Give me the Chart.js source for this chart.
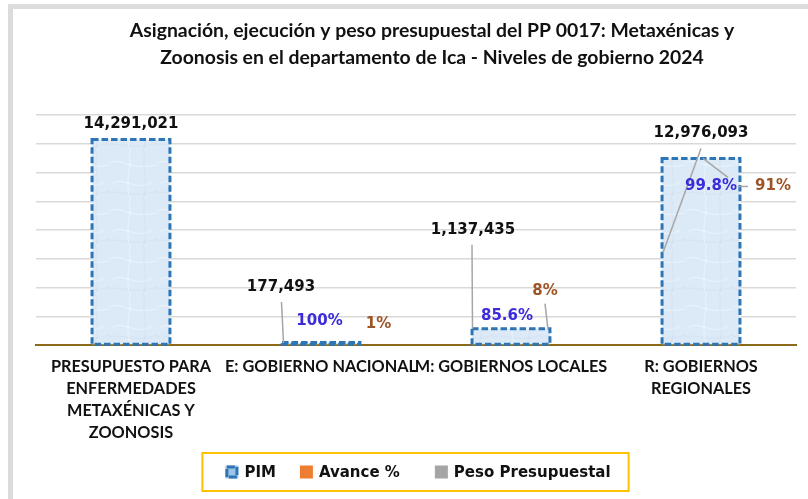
<!DOCTYPE html>
<html>
<head>
<meta charset="utf-8">
<script src="https://cdn.jsdelivr.net/npm/chart.js@4.4.0/dist/chart.umd.min.js"></script>
<style>
  html, body { margin: 0; padding: 0; background: #fff; }
  body { width: 808px; height: 499px; overflow: hidden; position: relative; }
  .frame { position: absolute; left: 8px; top: 4px; right: 0; bottom: 0; border-left: 5px solid #dcdcdc; border-top: 5px solid #dcdcdc; }
  .chart-container { position: absolute; left: 13px; top: 9px; width: 795px; height: 490px; }
</style>
</head>
<body>
<div class="frame"></div>
<div class="chart-container"><canvas id="myChart"></canvas></div>
<script>
const ctx = document.getElementById('myChart');

// Data

const categories = [
  ['PRESUPUESTO PARA', 'ENFERMEDADES', 'METAXÉNICAS Y', 'ZOONOSIS'],
  'E: GOBIERNO NACIONAL',
  'M: GOBIERNOS LOCALES',
  ['R: GOBIERNOS', 'REGIONALES']
];
const pimValues = [14291021, 177493, 1137435, 12976093];
const avanceValues = [null, 100, 85.6, 99.8];
const pesoValues = [null, 1, 8, 91];
const yMax = 16000000;
const yStep = 2000000;
const titleLines = [
  'Asignación, ejecución y peso presupuestal del PP 0017: Metaxénicas y',
  'Zoonosis en el departamento de Ica - Niveles de gobierno 2024'
];

// Fonts: size the Calibri-like text so it spans the same width as in the picture

const measureCtx = document.createElement('canvas').getContext('2d');
const fitSize = (text, family, target) => {
  measureCtx.font = `bold 100px ${family}`;
  return Math.round(100 * target / measureCtx.measureText(text).width * 10) / 10;
};
const narrowFamily = 'Lato, "Open Sans", sans-serif';
const wideFamily = '"DejaVu Sans"';
const titleSize = fitSize(titleLines[0], narrowFamily, 606);
const tickSize = fitSize('PRESUPUESTO PARA', narrowFamily, 160);

const blueLabel = '#3b2bd9';
const brownLabel = '#9e5427';
const leaderColor = '#a6a6a6';
const barBorder = '#2e75b6';

// Light textured fill for the PIM bars

const makePattern = () => {
  const c = document.createElement('canvas');
  c.width = 48; c.height = 48;
  const p = c.getContext('2d');
  p.fillStyle = '#dceaf8';
  p.fillRect(0, 0, 48, 48);
  p.lineWidth = 1;
  p.strokeStyle = 'rgba(255,255,255,0.45)';
  p.beginPath();
  p.moveTo(0, 10); p.bezierCurveTo(12, 4, 20, 18, 48, 12);
  p.moveTo(4, 30); p.bezierCurveTo(16, 24, 30, 40, 44, 28);
  p.moveTo(20, 0); p.bezierCurveTo(24, 16, 14, 30, 22, 48);
  p.stroke();
  p.strokeStyle = 'rgba(195,210,228,0.35)';
  p.beginPath();
  p.moveTo(0, 40); p.bezierCurveTo(10, 36, 24, 46, 48, 38);
  p.moveTo(36, 0); p.bezierCurveTo(32, 14, 40, 26, 34, 48);
  p.stroke();
  return p.createPattern(c, 'repeat');
};

// Label placement relative to bar centre / bar top: [dx, dy], lines [x1, y1, x2, y2]

const labelLayout = [
  { pim: [0, -15.5] },
  { pim: [-40, -55.5], pimLine: [-39.5, -40.5, -37.5, 0.5], avance: [-1.5, -21.5], peso: [57.5, -18.5] },
  { pim: [-38, -99], pimLine: [-39, -84, -38.5, 0], avance: [-4, -13], peso: [34, -38], pesoLine: [34, -25, 37, 1] },
  { pim: [0, -25], pimLine: [0, -10, -38, 94], avance: [10, 28], avanceLine: [2, 0, 27, 19], peso: [72, 28], pesoLine: [37, 28, 47, 28] }
];
const legendGaps = [24, 35];

const formatPct = (v) => (Number.isInteger(v) ? v : v.toFixed(1)) + '%';

const drawLegend = (chart) => {
  const c = chart.ctx;
  const area = chart.chartArea;
  const items = chart.data.datasets.map((ds) => ({ text: ds.label, color: ds.legendColor }));
  c.font = `bold 15px ${wideFamily}`;
  const box = 13, textGap = 6;
  const widths = items.map((it) => box + textGap + c.measureText(it.text).width);
  const total = widths.reduce((a, b) => a + b, 0) + legendGaps.reduce((a, b) => a + b, 0);
  let x = (area.left + area.right) / 2 + 2 - total / 2;
  const cy = area.bottom + 127;
  const start = x;
  c.textAlign = 'left';
  c.textBaseline = 'middle';
  items.forEach((it, i) => {
    if (i === 0) {
      c.fillStyle = '#9dc3e6';
      c.fillRect(x, cy - box / 2, box, box);
      c.strokeStyle = barBorder;
      c.lineWidth = 3;
      c.setLineDash([8, 2]);
      c.strokeRect(x + 1.5, cy - box / 2 + 1.5, box - 3, box - 3);
      c.setLineDash([]);
    } else {
      c.fillStyle = it.color;
      c.fillRect(x, cy - box / 2, box, box);
    }
    c.fillStyle = '#111';
    c.fillText(it.text, x + box + textGap, cy + 1);
    x += widths[i] + (legendGaps[i] || 0);
  });
  c.strokeStyle = '#ffc000';
  c.lineWidth = 2;
  c.strokeRect(start - 23, cy - 19, x - start + 41, 38);
};

const barDecor = {
  id: 'barDecor',
  afterDatasetsDraw(chart) {
    const c = chart.ctx;
    const meta = chart.getDatasetMeta(0);
    c.save();
    c.strokeStyle = barBorder;
    c.lineWidth = 3;
    c.setLineDash([6.5, 3]);
    meta.data.forEach((el) => {
      const { x, y, base, width } = el.getProps(['x', 'y', 'base', 'width'], true);
      c.strokeRect(x - width / 2, y, width, base - y);
    });
    c.restore();
  },
  afterDraw(chart) {
    const c = chart.ctx;
    const meta = chart.getDatasetMeta(0);
    const area = chart.chartArea;

    // title
    c.save();
    c.fillStyle = '#111';
    c.font = `bold ${titleSize}px ${narrowFamily}`;
    c.textAlign = 'center';
    c.textBaseline = 'middle';
    const tx = (area.left + area.right) / 2 + 16;
    c.fillText(titleLines[0], tx, area.top - 84);
    c.fillText(titleLines[1], tx, area.top - 57);

    // leader lines
    c.strokeStyle = leaderColor;
    c.lineWidth = 1.5;
    meta.data.forEach((el, i) => {
      const { x, y } = el.getProps(['x', 'y'], true);
      const lay = labelLayout[i];
      ['pimLine', 'avanceLine', 'pesoLine'].forEach((k) => {
        if (!lay[k]) return;
        const l = lay[k];
        c.beginPath();
        c.moveTo(x + l[0], y + l[1]);
        c.lineTo(x + l[2], y + l[3]);
        c.stroke();
      });
    });

    // data labels
    c.font = `bold 15px ${wideFamily}`;
    meta.data.forEach((el, i) => {
      const { x, y } = el.getProps(['x', 'y'], true);
      const lay = labelLayout[i];
      c.fillStyle = '#111';
      c.fillText(pimValues[i].toLocaleString('en-US'), x + lay.pim[0], y + lay.pim[1]);
      if (avanceValues[i] != null) {
        c.fillStyle = blueLabel;
        c.fillText(formatPct(avanceValues[i]), x + lay.avance[0], y + lay.avance[1]);
      }
      if (pesoValues[i] != null) {
        c.fillStyle = brownLabel;
        c.fillText(formatPct(pesoValues[i]), x + lay.peso[0], y + lay.peso[1]);
      }
    });

    drawLegend(chart);
    c.restore();
  }
};

const data = {
  labels: categories,
  datasets: [
    {
      label: 'PIM',
      data: pimValues,
      backgroundColor: makePattern(),
      legendColor: '#9dc3e6',
      borderWidth: 0,
      barPercentage: 0.41,
      categoryPercentage: 1,
      grouped: false
    },
    {
      type: 'line',
      label: 'Avance %',
      data: avanceValues,
      yAxisID: 'yPct',
      legendColor: '#ed7d31',
      showLine: false,
      pointRadius: 0,
      pointHoverRadius: 0
    },
    {
      type: 'line',
      label: 'Peso Presupuestal',
      data: pesoValues,
      yAxisID: 'yPct',
      legendColor: '#a5a5a5',
      showLine: false,
      pointRadius: 0,
      pointHoverRadius: 0
    }
  ]
};

const budgetChart = new Chart(ctx, {
  type: 'bar',
  data: data,
  plugins: [barDecor],
  options: {
    responsive: true,
    maintainAspectRatio: false,
    animation: false,
    layout: {
      padding: { left: 23, right: 12, top: 106, bottom: 52 }
    },
    plugins: {
      title: { display: false },
      tooltip: { enabled: false },
      legend: { display: false }
    },
    scales: {
      x: {
        grid: { display: false },
        border: { display: true, color: '#8b6b1a', width: 2 },
        ticks: {
          color: '#111',
          padding: 3,
          maxRotation: 0,
          autoSkip: false,
          font: { family: narrowFamily, size: tickSize, weight: 'bold', lineHeight: 22 / tickSize }
        }
      },
      y: {
        min: 0,
        max: yMax,
        ticks: { display: false, stepSize: yStep },
        grid: { color: '#d9d9d9', lineWidth: 1.5, drawTicks: false },
        border: { display: false }
      },
      yPct: {
        display: false,
        min: 0,
        max: 100
      }
    }
  }
});
</script>
</body>
</html>
